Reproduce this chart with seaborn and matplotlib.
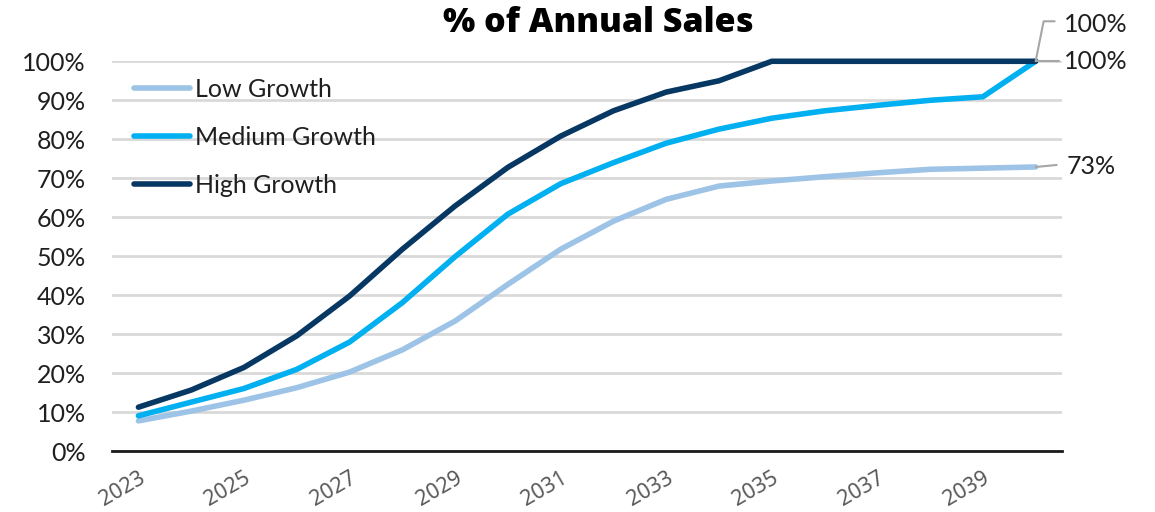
import numpy as np
import pandas as pd
import matplotlib
matplotlib.use("Agg")
import matplotlib.pyplot as plt
import matplotlib.transforms as mtransforms
from matplotlib.lines import Line2D
import seaborn as sns

# Share of annual sales by scenario
years = list(range(2023, 2041))
low_growth = [0.078, 0.103, 0.131, 0.163, 0.203, 0.260, 0.334, 0.428, 0.518, 0.590,
              0.646, 0.680, 0.693, 0.704, 0.714, 0.723, 0.726, 0.729]
medium_growth = [0.091, 0.126, 0.161, 0.210, 0.280, 0.381, 0.499, 0.608, 0.686, 0.740,
                 0.790, 0.826, 0.854, 0.873, 0.887, 0.900, 0.909, 1.000]
high_growth = [0.113, 0.157, 0.215, 0.296, 0.398, 0.518, 0.629, 0.728, 0.808, 0.873,
               0.921, 0.950, 1.000, 1.000, 1.000, 1.000, 1.000, 1.000]
series_names = ["Low Growth", "Medium Growth", "High Growth"]
series_colors = ["#9DC3E6", "#00B0F0", "#073763"]
title = "% of Annual Sales"
xtick_years = list(range(2023, 2040, 2))

df = pd.DataFrame({
    "Year": years * 3,
    "Share": low_growth + medium_growth + high_growth,
    "Scenario": [series_names[0]] * len(years) + [series_names[1]] * len(years)
                + [series_names[2]] * len(years),
})

sns.set_theme(style="white")
plt.rcParams["font.family"] = ["Lato", "DejaVu Sans"]
text_color = "#1f1f1f"

fig = plt.figure(figsize=(11.55, 5.12), dpi=100)
ax = fig.add_axes([0.097, 0.1186, 0.8225, 0.7617])

sns.lineplot(data=df, x="Year", y="Share", hue="Scenario", hue_order=series_names,
             palette=series_colors, linewidth=4, ax=ax, legend=False,
             solid_capstyle="round", solid_joinstyle="round")
for ln in ax.get_lines():
    ln.set_clip_on(False)

ax.set_xlim(2022.5, 2040.5)
ax.set_ylim(0, 1.0)
ax.set_yticks(np.arange(0, 1.01, 0.1))
ax.set_yticklabels([f"{int(round(v * 100))}%" for v in np.arange(0, 1.01, 0.1)],
                   fontsize=18, color=text_color)
ax.set_xticks(xtick_years)
ax.set_xticklabels([str(y) for y in xtick_years], rotation=30, ha="right",
                   rotation_mode="anchor", fontsize=15.5, color="#595959",
                   family=["Noto Sans", "DejaVu Sans"], fontstyle="normal")
ax.tick_params(axis="y", length=0, pad=19)
ax.tick_params(axis="x", length=0, pad=12)
ax.set_xlabel("")
ax.set_ylabel("")
ax.yaxis.grid(True, color="#D9D9D9", linewidth=2)
ax.set_axisbelow(True)
for side in ["top", "right", "left"]:
    ax.spines[side].set_visible(False)
ax.spines["bottom"].set_color("#1a1a1a")
ax.spines["bottom"].set_linewidth(2)
ax.spines["bottom"].set_zorder(1.5)

# Legend
handles = [Line2D([0], [0], color=c, linewidth=4, solid_capstyle="round")
           for c in series_colors]
ax.legend(handles, series_names, loc="upper left", bbox_to_anchor=(0.023, 0.957),
          frameon=False, handlelength=2.24, handletextpad=0.2,
          labelspacing=1.0, borderpad=0, borderaxespad=0,
          prop={"family": ["Lato", "DejaVu Sans"], "size": 18})
for t in ax.get_legend().get_texts():
    t.set_color(text_color)

fig.suptitle(title, x=0.518, y=0.988, fontsize=24.5, fontweight="heavy",
             color="#000000", family=["Open Sans", "DejaVu Sans"])

# End-of-series labels with leader lines (pixel offsets from the last point)
leader_color = "#A6A6A6"
end_labels = [
    (high_growth[-1], [(0, 0), (8, 40), (19, 40)], (28, 37)),
    (medium_growth[-1], [(0, 0), (23, 0)], (28, 0)),
    (low_growth[-1], [(0, 0), (21, 2)], (31, 0)),
]
for value, path, text_off in end_labels:
    ax_x, ax_y = ax.transData.transform((years[-1], value))
    tr = mtransforms.Affine2D().translate(ax_x, ax_y)
    xs = [p[0] for p in path]
    ys = [p[1] for p in path]
    fig.add_artist(Line2D(xs, ys, color=leader_color, linewidth=1.5,
                          transform=tr, zorder=1))
    fig.text(ax_x + text_off[0], ax_y + text_off[1], f"{value:.0%}",
             transform=mtransforms.IdentityTransform(), ha="left", va="center",
             fontsize=18, color=text_color)

fig.savefig("out.png", dpi=100)
